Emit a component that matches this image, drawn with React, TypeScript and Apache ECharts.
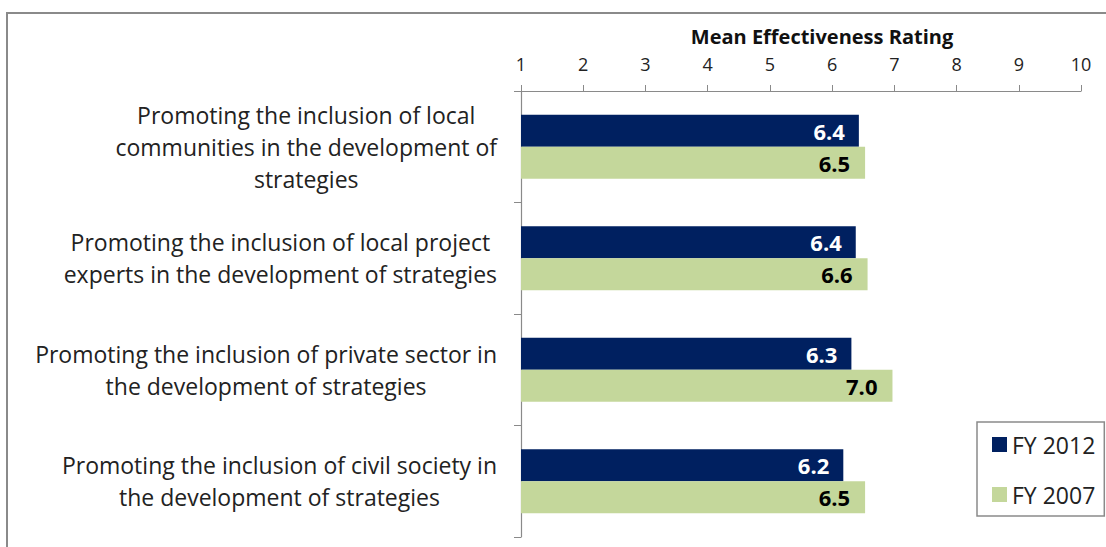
import React, { useEffect, useRef } from 'react';
import * as echarts from 'echarts';

const categories = [
  'Promoting the inclusion of local\ncommunities in the development of\nstrategies',
  'Promoting the inclusion of local project\nexperts in the development of strategies',
  'Promoting the inclusion of private sector in\nthe development of strategies',
  'Promoting the inclusion of civil society in\nthe development of strategies',
];
const fy2012 = [6.43, 6.38, 6.31, 6.18];
const fy2007 = [6.53, 6.57, 6.97, 6.53];
const seriesNames = ['FY 2012', 'FY 2007'];
const axisTitle = 'Mean Effectiveness Rating';
const axisMin = 1;
const axisMax = 10;

const FONT = '"Open Sans", "Noto Sans", sans-serif';

export default function App() {
  const ref = useRef<HTMLDivElement>(null);
  useEffect(() => {
    document.body.style.margin = '0';
    const chart = echarts.init(ref.current!, null, { renderer: 'svg' });
    chart.setOption({
      animation: false,
      backgroundColor: '#ffffff',
      textStyle: { fontFamily: FONT },
      title: {
        text: axisTitle,
        left: 822,
        textAlign: 'center',
        top: 22,
        padding: 0,
        textStyle: { fontFamily: FONT, fontSize: 20, fontWeight: 'bold', color: '#111', lineHeight: 28 },
      },
      graphic: [
        {
          type: 'rect',
          shape: { x: 7, y: 13, width: 1300, height: 700 },
          style: { fill: 'none', stroke: '#8a8a8a', lineWidth: 2 },
          silent: true,
        },
      ],
      legend: {
        orient: 'vertical',
        left: 977,
        top: 422,
        padding: [11, 9, 10, 15],
        itemGap: 27,
        itemWidth: 15,
        itemHeight: 15,
        icon: 'rect',
        borderColor: '#8a8a8a',
        borderWidth: 1.5,
        backgroundColor: '#fff',
        textStyle: { fontFamily: FONT, fontSize: 23, color: '#222' },
        data: seriesNames,
      },
      grid: { left: 521, right: 25, top: 91, bottom: 10 },
      xAxis: {
        type: 'value',
        position: 'top',
        min: axisMin,
        max: axisMax,
        interval: 1,
        axisLine: { show: true, lineStyle: { color: '#8a8a8a', width: 1.2 } },
        axisTick: { show: true, length: 6, lineStyle: { color: '#8a8a8a' } },
        axisLabel: { margin: 18, fontFamily: FONT, fontSize: 18, color: '#222' },
        splitLine: { show: false },
      },
      yAxis: {
        type: 'category',
        inverse: true,
        data: categories,
        axisLine: { show: true, lineStyle: { color: '#8a8a8a', width: 1.2 } },
        axisTick: { show: true, length: 7, lineStyle: { color: '#8a8a8a' } },
        axisLabel: {
          margin: 24,
          align: 'right',
          formatter: (v: string) => v.split('\n').map((l) => `{c|${l}}`).join('\n'),
          rich: {
            c: { align: 'center', fontFamily: FONT, fontSize: 23, lineHeight: 32, color: '#222' },
          },
        },
      },
      series: [
        {
          name: seriesNames[0],
          type: 'bar',
          data: fy2012,
          barWidth: 32,
          barGap: '0%',
          itemStyle: { color: '#002060' },
          label: {
            show: true,
            position: 'insideRight',
            distance: 14,
            formatter: (p: any) => Number(p.value).toFixed(1),
            fontFamily: FONT,
            fontSize: 22,
            fontWeight: 'bold',
            color: '#ffffff',
          },
        },
        {
          name: seriesNames[1],
          type: 'bar',
          data: fy2007,
          barWidth: 32,
          barGap: '0%',
          itemStyle: { color: '#c4d79b' },
          label: {
            show: true,
            position: 'insideRight',
            distance: 15,
            formatter: (p: any) => Number(p.value).toFixed(1),
            fontFamily: FONT,
            fontSize: 22,
            fontWeight: 'bold',
            color: '#000000',
          },
        },
      ],
    });
    return () => chart.dispose();
  }, []);
  return (
    <div
      ref={ref}
      style={{ position: 'fixed', left: 0, top: 0, width: 1106, height: 547 }}
    />
  );
}
